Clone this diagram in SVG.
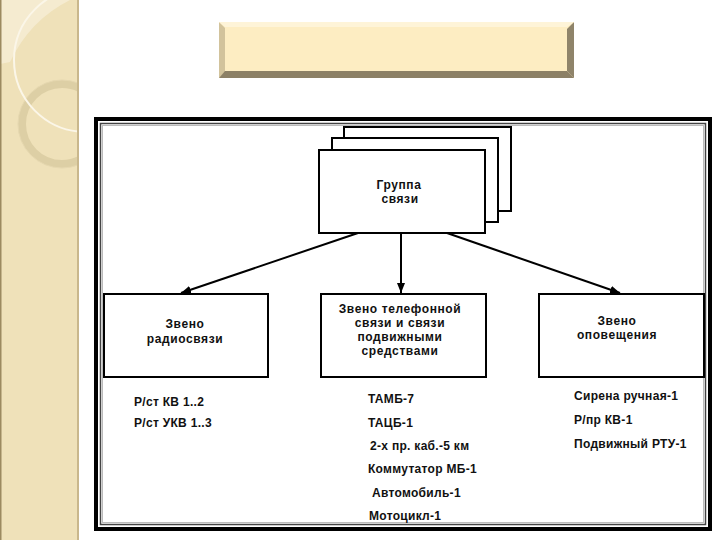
<svg xmlns="http://www.w3.org/2000/svg" width="720" height="540" viewBox="0 0 720 540">
<defs>
<marker id="ah" viewBox="0 0 10 8" refX="10" refY="4" markerWidth="5" markerHeight="4" orient="auto" markerUnits="strokeWidth">
<path d="M0,0 L10,4 L0,8 Z" fill="#000"/>
</marker>
<clipPath id="strip"><rect x="0" y="0" width="78" height="540"/></clipPath>
</defs>
<style>
.box{fill:#fff;stroke:#000;stroke-width:2}
.lbl{font-family:"Liberation Sans",Arial,sans-serif;font-size:12px;font-weight:bold;fill:#111;text-anchor:middle;letter-spacing:0.6px}
.itm{font-family:"Liberation Sans",Arial,sans-serif;font-size:12px;font-weight:bold;fill:#111;letter-spacing:0.3px}
.con{stroke:#000;stroke-width:2;fill:none;marker-end:url(#ah)}
</style>
<rect x="0" y="0" width="720" height="540" fill="#fff"/>
<g id="strip-deco">
<rect x="0" y="0" width="78" height="540" fill="#EFE1B9"/>
<g clip-path="url(#strip)">
<path d="M0,0 H70 Q30,20 10,62 L0,64 Z" fill="#F5EBD0"/>
<circle cx="62" cy="124" r="40" fill="none" stroke="#DDCFA5" stroke-width="8"/>
<circle cx="62" cy="124" r="44" fill="none" stroke="#E6D8B0" stroke-width="1"/>
<circle cx="86" cy="60" r="72" fill="none" stroke="#FBF6E8" stroke-width="2"/>
</g>
<rect x="0" y="0" width="1.5" height="540" fill="#9C8A60"/>
<rect x="77" y="0" width="2" height="540" fill="#C9B78C"/>
</g>
<g id="title">
<rect x="219" y="22" width="355" height="56" fill="#FDEDC2"/>
<polygon points="219,22 225,28 225,72 219,78" fill="#D2C39C"/>
<polygon points="574,22 567,29 567,71 574,78" fill="#8F846A"/>
<polygon points="219,78 225,71 567,71 574,78" fill="#8C8066"/>
<polygon points="219,22 574,22 567,27 225,27" fill="#FEF4D8"/>
</g>
<g id="frame">
<rect x="96" y="119" width="614" height="410" fill="#fff" stroke="#000" stroke-width="4"/>
<rect x="100.5" y="123.5" width="605" height="401" fill="none" stroke="#444" stroke-width="1.5"/>
<rect x="102.5" y="125.5" width="601" height="397" fill="none" stroke="#bbb" stroke-width="1"/>
</g>
<g id="group">
<rect class="box" x="344" y="127" width="167" height="84"/>
<rect class="box" x="332" y="138" width="166" height="84"/>
<rect class="box" x="319" y="150" width="166" height="83"/>
<text class="lbl" x="399" y="189" font-weight="normal">Группа</text>
<text class="lbl" x="400" y="203">связи</text>
</g>
<g id="radio">
<rect class="box" x="104" y="294" width="164" height="83"/>
<text class="lbl" x="185" y="328">Звено</text>
<text class="lbl" x="185" y="343">радиосвязи</text>
</g>
<g id="phone">
<rect class="box" x="321" y="294" width="165" height="83"/>
<text class="lbl" x="400" y="313">Звено телефонной</text>
<text class="lbl" x="400" y="327">связи и связи</text>
<text class="lbl" x="400" y="341">подвижными</text>
<text class="lbl" x="400" y="355">средствами</text>
</g>
<g id="alert">
<rect class="box" x="539" y="294" width="165" height="83"/>
<text class="lbl" x="617" y="325">Звено</text>
<text class="lbl" x="617" y="339">оповещения</text>
</g>
<g id="connectors">
<line class="con" x1="358" y1="233" x2="181" y2="293"/>
<line class="con" x1="401" y1="233" x2="401" y2="293"/>
<line class="con" x1="447" y1="233" x2="620" y2="293"/>
</g>
<g id="items">
<text class="itm" x="134" y="406">Р/ст КВ 1..2</text>
<text class="itm" x="134" y="427">Р/ст УКВ 1..3</text>
<text class="itm" x="368" y="403">ТАМБ-7</text>
<text class="itm" x="368" y="427">ТАЦБ-1</text>
<text class="itm" x="370" y="450">2-х пр. каб.-5 км</text>
<text class="itm" x="368" y="473">Коммутатор МБ-1</text>
<text class="itm" x="372" y="497">Автомобиль-1</text>
<text class="itm" x="369" y="520">Мотоцикл-1</text>
<text class="itm" x="574" y="400">Сирена ручная-1</text>
<text class="itm" x="574" y="424">Р/пр КВ-1</text>
<text class="itm" x="574" y="448">Подвижный РТУ-1</text>
</g>
</svg>
